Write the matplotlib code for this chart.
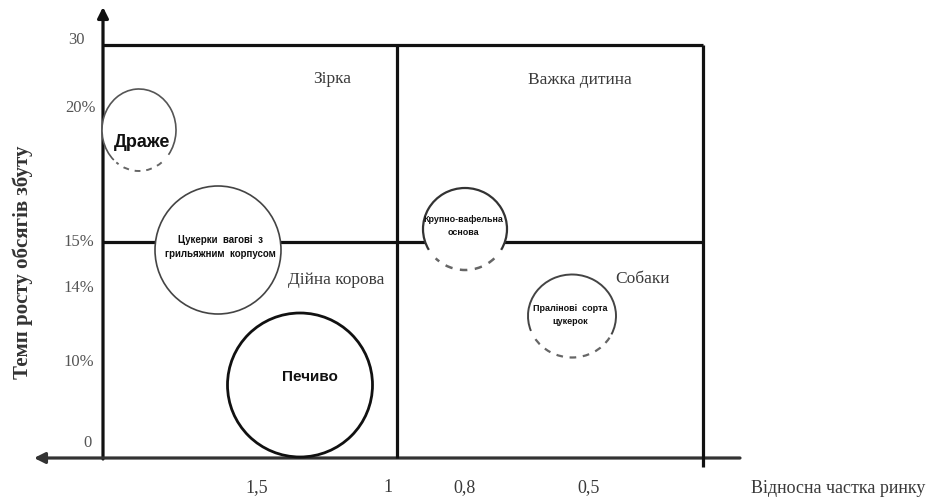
import matplotlib
matplotlib.use('Agg')
import matplotlib.pyplot as plt
from matplotlib.patches import Ellipse, Arc

# BCG matrix (schematic), coordinates in picture units
y_tick_labels = ['30', '20%', '15%', '14%', '10%', '0']
y_tick_pos = [40, 108, 242, 288, 362, 443]
y_tick_x = [76, 80, 79, 79, 79, 88]

x_tick_labels = ['1,5', '1', '0,8', '0,5']
x_tick_pos = [257, 388, 465, 589]

quadrant_names = ['Зірка', 'Важка дитина', 'Дійна корова', 'Собаки']
quadrant_x = [332, 580, 336, 643]
quadrant_y = [79, 80, 280, 279]

products = ['Драже', 'Цукерки  вагові  з\nгрильяжним  корпусом', 'Печиво',
            'Крупно-вафельна\nоснова', 'Пралінові  сорта\nцукерок']
bubble_x = [139, 218, 300, 465, 572]
bubble_y = [131, 251, 386, 230, 317]
bubble_w = [74, 126, 145, 84, 88]
bubble_h = [82, 128, 144, 82, 83]
# solid arc range, dashed arc range (None = full solid circle)
bubble_solid = [(130, 400), None, None, (150, 390), (160, 385)]
bubble_dash = [(55, 125), None, None, (45, 135), (30, 150)]
bubble_edge = ['#555555', '#444444', '#111111', '#333333', '#444444']
bubble_lw = [1.2, 1.2, 2.0, 1.6, 1.4]
label_dx = [3, 2, 10, -2, -2]
label_dy = [12, -4, -9, -4, -2]
label_size = [13, 7, 11, 6.5, 6.5]

fig = plt.figure(figsize=(9.45, 5.02), dpi=100)
ax = fig.add_axes([0, 0, 1, 1])
ax.set_xlim(0, 945)
ax.set_ylim(502, 0)
ax.axis('off')

line_kw = dict(color='#111111', lw=2.3, solid_capstyle='butt', zorder=2)

# axes with arrows
ax.annotate('', xy=(103, 8), xytext=(103, 460),
            arrowprops=dict(arrowstyle='-|>', lw=2.3, color='#111111',
                            mutation_scale=16, shrinkA=0, shrinkB=0), zorder=2)
ax.annotate('', xy=(34, 459), xytext=(740, 459),
            arrowprops=dict(arrowstyle='-|>', lw=2.3, color='#333333',
                            mutation_scale=16, shrinkA=0, shrinkB=0), zorder=2)

# matrix frame
ax.plot([103, 703], [46, 46], **line_kw)
ax.plot([103, 703], [243, 243], **line_kw)
ax.plot([397, 397], [46, 459], **line_kw)
ax.plot([703, 703], [46, 468], **line_kw)

serif = 'Liberation Serif'
sans = 'Liberation Sans'
txt_col = '#3a3a3a'

for lab, yp, xp in zip(y_tick_labels, y_tick_pos, y_tick_x):
    ax.text(xp, yp, lab, ha='center', va='center', fontsize=12,
            family=serif, color='#555555')

for lab, xp in zip(x_tick_labels, x_tick_pos):
    ax.text(xp, 488, lab, ha='center', va='center', fontsize=13,
            family=serif, color=txt_col)

ax.text(838, 489, 'Відносна частка ринку', ha='center', va='center',
        fontsize=13, family=serif, color=txt_col)
ax.text(23, 262, 'Темп росту обсягів збуту', ha='center', va='center',
        rotation=90, fontsize=15, fontweight='bold', family=serif, color='#333333')

for name, xq, yq in zip(quadrant_names, quadrant_x, quadrant_y):
    ax.text(xq, yq, name, ha='center', va='center', fontsize=12.5,
            family=serif, color=txt_col)

for i, name in enumerate(products):
    cx, cy, w, h = bubble_x[i], bubble_y[i], bubble_w[i], bubble_h[i]
    ax.add_patch(Ellipse((cx, cy), w, h, facecolor='white', edgecolor='none', zorder=3))
    if bubble_solid[i] is None:
        ax.add_patch(Ellipse((cx, cy), w, h, facecolor='none', edgecolor=bubble_edge[i],
                             lw=bubble_lw[i], zorder=4))
    else:
        t1, t2 = bubble_solid[i]
        ax.add_patch(Arc((cx, cy), w, h, theta1=t1, theta2=t2,
                         edgecolor=bubble_edge[i], lw=bubble_lw[i], zorder=4))
        d1, d2 = bubble_dash[i]
        ax.add_patch(Arc((cx, cy), w, h, theta1=d1, theta2=d2,
                         edgecolor='#666666', lw=bubble_lw[i] + 0.2,
                         linestyle=(0, (3, 3)), zorder=4))
    ax.text(cx + label_dx[i], cy + label_dy[i], name, ha='center', va='center',
            fontsize=label_size[i], fontweight='bold', family=sans,
            color='#111111', linespacing=1.5, zorder=5)

fig.savefig('out.png', dpi=100, facecolor='white')
